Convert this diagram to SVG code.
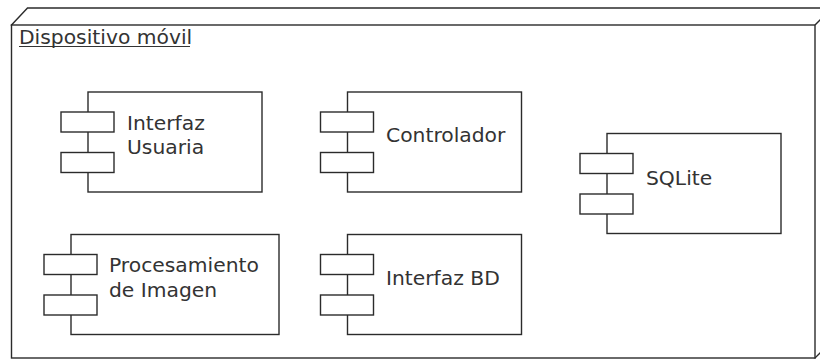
<svg xmlns="http://www.w3.org/2000/svg" width="820" height="360" viewBox="0 0 820 360">
  <style>
    .ln { fill: #ffffff; stroke: #2b2b2b; stroke-width: 1.4; }
    .lbl { font-family: "DejaVu Sans", sans-serif; font-size: 20.3px; fill: #333333; }
  </style>
  <defs>
    <!-- component symbol: body with two port tabs, origin at body top-left -->
    <g id="tabs">
      <rect class="ln" x="-27" y="20" width="53" height="20"/>
      <rect class="ln" x="-27" y="60.5" width="53" height="20"/>
    </g>
  </defs>
  <rect width="820" height="360" fill="#ffffff"/>

  <!-- device node (3D box) -->
  <g id="node-dispositivo">
    <path class="ln" d="M11.5,25 L27.5,8 L832,8 L832,341 L815,358 Z"/>
    <path class="ln" fill="none" d="M815,25 L832,8"/>
    <rect class="ln" x="11.5" y="25" width="803.5" height="333"/>
    <text class="lbl" x="19" y="44">Dispositivo móvil</text>
    <line x1="19" y1="46.5" x2="190" y2="46.5" stroke="#333333" stroke-width="1"/>
  </g>

  <g id="comp-interfaz-usuaria">
    <rect class="ln" x="88" y="92" width="174" height="100"/>
    <use href="#tabs" x="88" y="92"/>
    <text class="lbl" x="127" y="130">Interfaz</text>
    <text class="lbl" x="127" y="154">Usuaria</text>
  </g>

  <g id="comp-controlador">
    <rect class="ln" x="347.5" y="92" width="174" height="100"/>
    <use href="#tabs" x="347.5" y="92"/>
    <text class="lbl" x="386" y="142">Controlador</text>
  </g>

  <g id="comp-sqlite">
    <rect class="ln" x="607" y="133.5" width="174" height="100"/>
    <use href="#tabs" x="607" y="133.5"/>
    <text class="lbl" x="646" y="185">SQLite</text>
  </g>

  <g id="comp-procesamiento">
    <rect class="ln" x="71" y="234.5" width="208" height="100"/>
    <use href="#tabs" x="71" y="234.5"/>
    <text class="lbl" x="109" y="272">Procesamiento</text>
    <text class="lbl" x="109" y="297">de Imagen</text>
  </g>

  <g id="comp-interfaz-bd">
    <rect class="ln" x="347.5" y="234.5" width="174" height="100"/>
    <use href="#tabs" x="347.5" y="234.5"/>
    <text class="lbl" x="386" y="285">Interfaz BD</text>
  </g>

  <g id="connectors"></g>
</svg>
